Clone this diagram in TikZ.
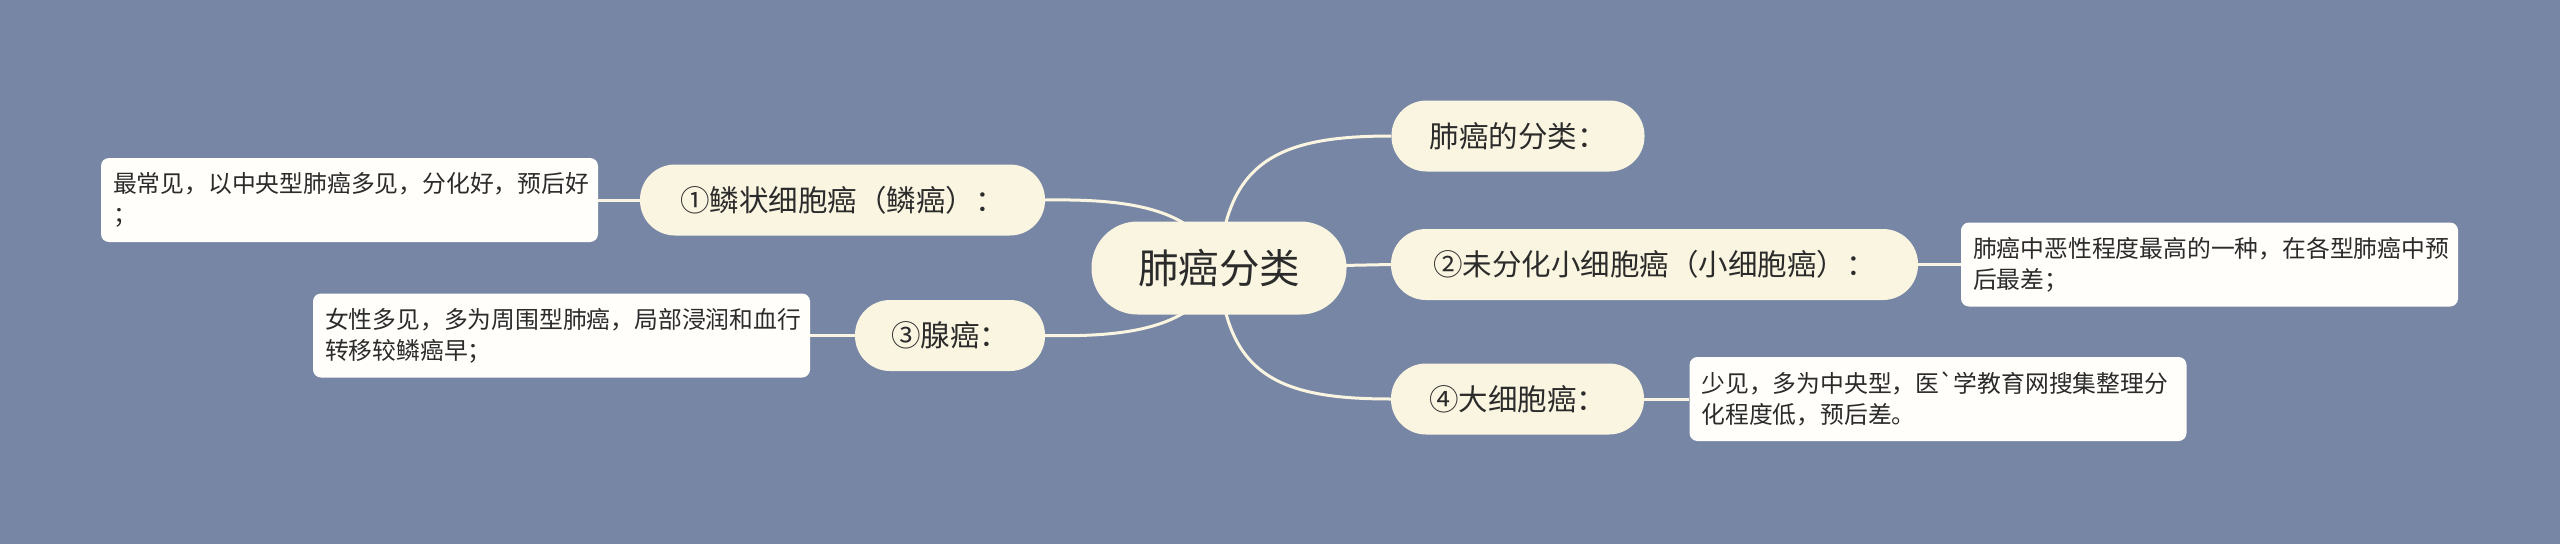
\documentclass[tikz,border=0pt]{standalone}
\usepackage{fontspec}
\newfontfamily\cjk{Noto Sans CJK SC}
\definecolor{bgc}{HTML}{7886A5}
\definecolor{pillc}{HTML}{FAF5E1}
\definecolor{boxc}{HTML}{FFFEFA}
\definecolor{txtc}{HTML}{2B2B2B}
\definecolor{linec}{HTML}{FAF5E1}
\pgfdeclarelayer{bglayer}
\pgfdeclarelayer{edgelayer}
\pgfsetlayers{bglayer,edgelayer,main}
\tikzset{
  pill/.style={fill=pillc, rounded corners=35pt, minimum height=71pt, inner sep=0pt, text=txtc, font=\cjk\fontsize{29.5}{34}\selectfont},
  rootpill/.style={pill, rounded corners=46pt, minimum height=93pt, font=\cjk\fontsize{40.5}{48}\selectfont},
  notebox/.style={fill=boxc, rounded corners=8pt, minimum height=84pt, inner xsep=12pt, inner ysep=0pt, text width=473pt, align=left, text=txtc, font=\cjk\fontsize{23.8}{31}\selectfont},
  link/.style={draw=linec, line width=3pt},
}
\begin{document}
\begin{tikzpicture}[x=1pt,y=-1pt]
\useasboundingbox (0,0) rectangle (2560,544);
\begin{pgfonlayer}{bglayer}
\fill[bgc] (0,0) rectangle (2560,544);
\end{pgfonlayer}
\node[rootpill, minimum width=255pt] (root) at (1219,268) {肺癌分类};
\node[pill, minimum width=253pt] (n0) at (1518,136) {肺癌的分类：};
\node[pill, minimum width=527pt] (n2) at (1654.5,264.5) {②未分化小细胞癌（小细胞癌）：};
\node[pill, minimum width=253pt] (n4) at (1517.5,399) {④大细胞癌：};
\node[pill, minimum width=405pt] (n1) at (842.5,200) {①鳞状细胞癌（鳞癌）：};
\node[pill, minimum width=190pt] (n3) at (950,335.5) {③腺癌：};
\node[notebox] (b1) at (349.5,200) {最常见，以中央型肺癌多见，分化好，预后好\\；};
\node[notebox] (b3) at (561.5,335.5) {女性多见，多为周围型肺癌，局部浸润和血行\\转移较鳞癌早；};
\node[notebox] (b2) at (2209.5,264.5) {肺癌中恶性程度最高的一种，在各型肺癌中预\\后最差；};
\node[notebox] (b4) at (1938,399) {少见，多为中央型，医\symbol{96}学教育网搜集整理分\\化程度低，预后差。};
\begin{pgfonlayer}{edgelayer}
\draw[link] (root.center) .. controls (1226,160) and (1280,136) .. (n0.west);
\draw[link] (root.center) -- (n2.west);
\draw[link] (root.center) .. controls (1226,376) and (1280,399) .. (n4.west);
\draw[link] (root.center) .. controls (1200,205) and (1120,199) .. (n1.east);
\draw[link] (root.center) .. controls (1200,331) and (1120,337) .. (n3.east);
\draw[link] (b1.east) -- (n1.west);
\draw[link] (b3.east) -- (n3.west);
\draw[link] (n2.east) -- (b2.west);
\draw[link] (n4.east) -- (b4.west);
\end{pgfonlayer}
\end{tikzpicture}
\end{document}
